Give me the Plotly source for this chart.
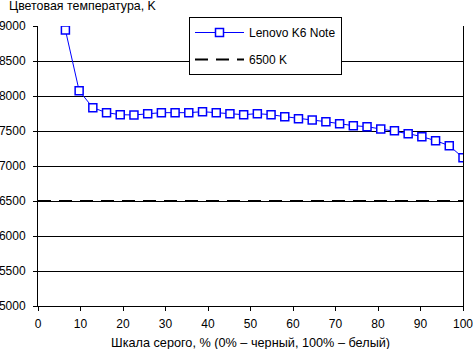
import plotly.graph_objects as go

gray_pct = [3.23, 6.45, 9.68, 12.90, 16.13, 19.35, 22.58, 25.81, 29.03, 32.26,
            35.48, 38.71, 41.94, 45.16, 48.39, 51.61, 54.84, 58.06, 61.29, 64.52,
            67.74, 70.97, 74.19, 77.42, 80.65, 83.87, 87.10, 90.32, 93.55, 96.77, 100.0]
temp_k = [15000, 8943, 8076, 7833, 7762, 7733, 7729, 7748, 7762, 7762,
          7762, 7776, 7762, 7748, 7733, 7748, 7733, 7705, 7676, 7657,
          7633, 7605, 7576, 7562, 7529, 7505, 7462, 7419, 7362, 7290, 7119]
ref_x = [0, 100]
ref_y = [6500, 6500]
series_name = "Lenovo K6 Note"
ref_name = "6500 K"
y_ticks = [5000, 5500, 6000, 6500, 7000, 7500, 8000, 8500, 9000]
x_ticks = [0, 10, 20, 30, 40, 50, 60, 70, 80, 90, 100]

FONT = "Liberation Sans, Arial, sans-serif"

fig = go.Figure()
fig.add_trace(go.Scatter(
    x=ref_x, y=ref_y, mode="lines", name=ref_name, legendgroup="b",
    line=dict(color="black", width=2, dash="13px,8px"),
    legendrank=2,
))
fig.add_trace(go.Scatter(
    x=gray_pct, y=temp_k, mode="lines+markers", name=series_name, legendgroup="a",
    line=dict(color="#0000FF", width=1),
    marker=dict(symbol="square", size=8, color="white",
                line=dict(color="#0000FF", width=1.5)),
    legendrank=1,
))

fig.update_layout(
    width=473, height=349,
    margin=dict(l=38, r=10, t=26, b=43),
    paper_bgcolor="white", plot_bgcolor="white",
    font=dict(family=FONT, size=12, color="black"),
    showlegend=True,
    legend=dict(
        x=(189 - 38) / 425, y=1 + 9 / 280, xanchor="left", yanchor="top",
        bgcolor="white", bordercolor="black", borderwidth=1,
        font=dict(family=FONT, size=12, color="black"),
        traceorder="grouped", tracegroupgap=8,
        itemwidth=49, entrywidth=114,
    ),
    annotations=[
        dict(text="Цветовая температура, K", x=0, y=1, xref="paper", yref="paper",
             xshift=-31, yshift=11, xanchor="left", yanchor="bottom", showarrow=False,
             font=dict(family=FONT, size=12.4, color="black")),
        dict(text="Шкала серого, % (0% – черный, 100% – белый)", x=0.5, y=0,
             xref="paper", yref="paper", yshift=-28, xanchor="center", yanchor="top",
             showarrow=False, font=dict(family=FONT, size=12.7, color="black")),
    ],
    xaxis=dict(
        range=[0, 100], tickvals=x_ticks, showgrid=False, zeroline=False,
        showline=True, linecolor="black", linewidth=1, automargin=False,
        ticks="outside", ticklen=4, tickcolor="black", ticklabelstandoff=3,
        ticklabeloverflow="allow",
    ),
    yaxis=dict(
        range=[5000, 9000], tickvals=y_ticks, showgrid=True, gridcolor="black",
        gridwidth=1, zeroline=False, automargin=False,
        showline=True, linecolor="black", linewidth=1, mirror=True,
        ticks="outside", ticklen=4, tickcolor="black", ticklabelstandoff=5,
        ticklabeloverflow="allow",
    ),
)

fig.write_html("out.html")
